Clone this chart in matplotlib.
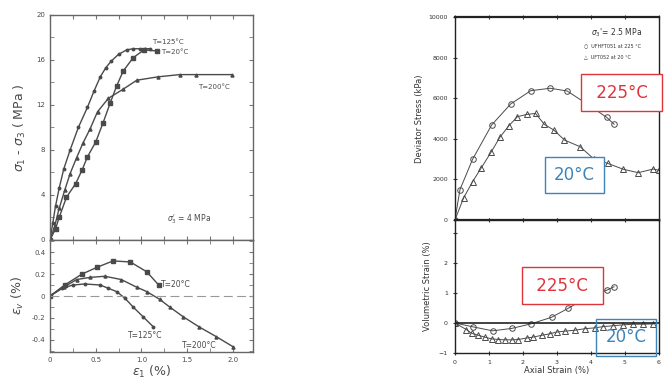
import matplotlib.pyplot as plt

# ---- left panel data (strain %, stress MPa / vol strain %) ----
t125_x = [0, 0.03, 0.06, 0.1, 0.15, 0.22, 0.31, 0.41, 0.48, 0.55, 0.61, 0.67, 0.75, 0.84, 0.91, 0.98, 1.04, 1.09]
t125_y = [0, 1.5, 3.0, 4.6, 6.3, 8.0, 10.0, 11.8, 13.2, 14.5, 15.3, 15.9, 16.5, 16.9, 17.0, 17.0, 17.0, 17.0]
t20_x = [0, 0.06, 0.1, 0.18, 0.28, 0.35, 0.41, 0.5, 0.58, 0.66, 0.73, 0.8, 0.91, 1.03, 1.17]
t20_y = [0, 1.0, 2.0, 3.8, 5.0, 6.2, 7.4, 8.7, 10.4, 12.2, 13.7, 15.0, 16.2, 16.9, 16.8]
t200_x = [0, 0.05, 0.1, 0.16, 0.22, 0.29, 0.36, 0.44, 0.52, 0.64, 0.8, 0.95, 1.18, 1.42, 1.6, 1.99]
t200_y = [0, 1.2, 2.8, 4.4, 5.9, 7.3, 8.6, 9.9, 11.4, 12.6, 13.4, 14.2, 14.5, 14.7, 14.7, 14.7]

v20_x = [0, 0.16, 0.35, 0.51, 0.69, 0.88, 1.06, 1.19]
v20_y = [0, 0.1, 0.2, 0.26, 0.32, 0.31, 0.22, 0.1]
v200_x = [0, 0.15, 0.29, 0.44, 0.6, 0.78, 0.95, 1.06, 1.2, 1.31, 1.46, 1.63, 1.82, 2.0]
v200_y = [0, 0.08, 0.15, 0.17, 0.18, 0.15, 0.08, 0.04, -0.03, -0.1, -0.19, -0.28, -0.37, -0.46]
v125_x = [0, 0.13, 0.25, 0.38, 0.55, 0.64, 0.73, 0.82, 0.91, 1.02, 1.13]
v125_y = [0, 0.07, 0.1, 0.11, 0.1, 0.07, 0.04, -0.02, -0.1, -0.19, -0.28]

# ---- right panel data (axial strain %, deviator stress kPa / vol strain %) ----
d225_x = [0, 0.15, 0.52, 1.08, 1.64, 2.23, 2.8, 3.3, 3.9, 4.46, 4.68]
d225_y = [0, 1500, 2990, 4680, 5714, 6370, 6490, 6355, 5700, 5060, 4715]
d20_x = [0, 0.26, 0.52, 0.78, 1.06, 1.32, 1.59, 1.84, 2.11, 2.37, 2.63, 2.91, 3.22, 3.68, 4.09,
         4.49, 4.95, 5.39, 5.83, 6.0]
d20_y = [0, 1100, 1890, 2580, 3330, 4070, 4650, 5090, 5200, 5250, 4710, 4430, 3940, 3610, 3000,
         2790, 2500, 2330, 2510, 2450]
r225_x = [0, 0.54, 1.11, 1.67, 2.23, 2.84, 3.33, 3.92, 4.48, 4.68]
r225_y = [0, -0.13, -0.26, -0.18, -0.03, 0.19, 0.49, 0.88, 1.1, 1.21]
r20_x = [0, 0.34, 0.49, 0.69, 0.88, 1.08, 1.28, 1.47, 1.67, 1.86, 2.11, 2.3, 2.55, 2.79, 2.99,
         3.24, 3.53, 3.82, 4.12, 4.36, 4.66, 4.95, 5.25, 5.54, 5.83]
r20_y = [0, -0.22, -0.34, -0.41, -0.47, -0.53, -0.55, -0.56, -0.56, -0.55, -0.5, -0.47, -0.41,
         -0.36, -0.3, -0.27, -0.24, -0.19, -0.16, -0.12, -0.09, -0.06, -0.04, -0.04, -0.03]

grey = '#4a4a4a'
lgrey = '#777777'
red = '#e0343a'
blue = '#3d84b8'

fig = plt.figure(figsize=(6.67, 3.83), dpi=100)

# left top
ax1 = fig.add_axes([0.075, 0.3734, 0.304, 0.5875])
ax1.plot(t125_x, t125_y, '-o', color=grey, ms=1.8, lw=1.0)
ax1.plot(t20_x, t20_y, '-s', color=grey, ms=2.8, lw=1.0)
ax1.plot(t200_x, t200_y, '-^', color=grey, ms=2.2, lw=1.0)
ax1.set_xlim(0, 2.22)
ax1.set_ylim(0, 20)
ax1.set_xticks([0, 0.25, 0.5, 0.75, 1.0, 1.25, 1.5, 1.75, 2.0])
ax1.set_xticklabels([])
ax1.set_yticks([0, 4, 8, 12, 16, 20])
ax1.set_yticklabels(['0', '4', '8', '12', '16', '20'])
ax1.set_yticks(range(0, 21, 2), minor=True)
ax1.tick_params(direction='in', top=True, right=True, which='both', length=3,
                labelsize=5, colors=lgrey, labelcolor=grey)
ax1.set_ylabel(r'$\sigma_1$ - $\sigma_3$ ( MPa )', fontsize=9, color=grey, labelpad=6)
ax1.text(1.12, 17.3, 'T=125°C', fontsize=5, color=grey, va='bottom')
ax1.text(1.22, 16.7, 'T=20°C', fontsize=5, color=grey, va='center')
ax1.text(1.62, 13.9, 'T=200°C', fontsize=5, color=grey, va='top')
ax1.text(1.28, 1.6, r"$\sigma_3'$ = 4 MPa", fontsize=5.5, color=grey)

# left bottom
ax2 = fig.add_axes([0.075, 0.0809, 0.304, 0.2924])
ax2.plot(v20_x, v20_y, '-s', color=grey, ms=2.8, lw=1.0)
ax2.plot(v200_x, v200_y, '-^', color=grey, ms=2.2, lw=1.0)
ax2.plot(v125_x, v125_y, '-o', color=grey, ms=1.8, lw=1.0)
ax2.axhline(0, color='#999999', lw=0.8, ls=(0, (8, 4)))
ax2.set_xlim(0, 2.22)
ax2.set_ylim(-0.51, 0.51)
ax2.set_xticks([0, 0.5, 1.0, 1.5, 2.0])
ax2.set_xticklabels(['0', '0.5', '1.0', '1.5', '2.0'])
ax2.set_xticks([0.25, 0.75, 1.25, 1.75], minor=True)
ax2.set_yticks([-0.4, -0.2, 0, 0.2, 0.4])
ax2.set_yticklabels(['-0.4', '-0.2', '0', '0.2', '0.4'])
ax2.set_yticks([-0.5, -0.3, -0.1, 0.1, 0.3, 0.5], minor=True)
ax2.tick_params(direction='in', top=True, right=True, which='both', length=3,
                labelsize=5, colors=lgrey, labelcolor=grey)
ax2.set_ylabel(r'$\epsilon_v$ (%)', fontsize=9, color=grey, labelpad=4)
ax2.set_xlabel(r'$\epsilon_1$ (%)', fontsize=9, color=grey, labelpad=1)
ax2.text(1.22, 0.08, 'T=20°C', fontsize=5.5, color=grey)
ax2.text(0.85, -0.38, 'T=125°C', fontsize=5.5, color=grey)
ax2.text(1.44, -0.47, 'T=200°C', fontsize=5.5, color=grey)
for a in (ax1, ax2):
    for s in a.spines.values():
        s.set_color('#666666')
        s.set_linewidth(1.0)

box_red = dict(boxstyle='square,pad=0.55', fc='white', ec=red, lw=1.0)

# right top
ax3 = fig.add_axes([0.682, 0.4256, 0.306, 0.530])
ax3.plot(d225_x, d225_y, '-o', color=grey, mfc='none', ms=4, lw=0.7, mew=0.7)
ax3.plot(d20_x, d20_y, '-^', color=grey, mfc='none', ms=4, lw=0.7, mew=0.7)
ax3.set_xlim(0, 6)
ax3.set_ylim(0, 10000)
ax3.set_xticks(range(0, 7))
ax3.set_xticklabels([])
ax3.set_yticks([0, 2000, 4000, 6000, 8000, 10000])
ax3.set_yticklabels(['0', '2000', '4000', '6000', '8000', '10000'])
ax3.tick_params(direction='inout', top=True, length=3, labelsize=4.5, colors='#333333')
ax3.set_ylabel('Deviator Stress (kPa)', fontsize=6, color='#333333', labelpad=3)
ax3.text(4.0, 9100, r"$\sigma_3$'= 2.5 MPa", fontsize=5.5, color='#333333')
ax3.text(3.8, 8500, '○  UFHFT051 at 225 °C', fontsize=3.5, color='#333333')
ax3.text(3.8, 7950, '△  UFT052 at 20 °C', fontsize=3.5, color='#333333')
ax3.text(4.9, 6280, ' 225°C ', fontsize=12, color=red, ha='center', va='center',
         bbox=box_red, clip_on=False)
ax3.text(3.51, 2217, '20°C', fontsize=12, color=blue, ha='center', va='center',
         bbox=dict(boxstyle='square,pad=0.55', fc='white', ec=blue, lw=1.0))

# right bottom
ax4 = fig.add_axes([0.682, 0.0783, 0.306, 0.347])
ax4.plot(r225_x, r225_y, '-o', color=grey, mfc='none', ms=4, lw=0.7, mew=0.7)
ax4.plot(r20_x, r20_y, '-^', color=grey, mfc='none', ms=4, lw=0.7, mew=0.7)
ax4.axhline(0, color='#222222', lw=1.2)
ax4.set_xlim(0, 6)
ax4.set_ylim(-1, 3.43)
ax4.set_xticks(range(0, 7))
ax4.set_yticks([-1, 0, 1, 2, 3])
ax4.set_yticklabels(['−1', '0', '1', '2', ''])
ax4.tick_params(direction='inout', top=True, length=3, labelsize=4.5, colors='#333333')
ax4.set_ylabel('Volumetric Strain (%)', fontsize=6, color='#333333', labelpad=5)
ax4.set_xlabel('Axial Strain (%)', fontsize=6, color='#333333', labelpad=1)
ax4.text(3.16, 1.25, ' 225°C ', fontsize=12, color=red, ha='center', va='center',
         bbox=box_red)
ax4.text(5.03, -0.48, '20°C', fontsize=12, color=blue, ha='center', va='center',
         bbox=dict(boxstyle='square,pad=0.55', fc='none', ec=blue, lw=1.0))
for a in (ax3, ax4):
    for s in a.spines.values():
        s.set_color('#222222')
        s.set_linewidth(1.0)
ax3.spines['top'].set_linewidth(1.6)
ax3.spines['bottom'].set_linewidth(1.6)

fig.savefig('out.png', dpi=100)
